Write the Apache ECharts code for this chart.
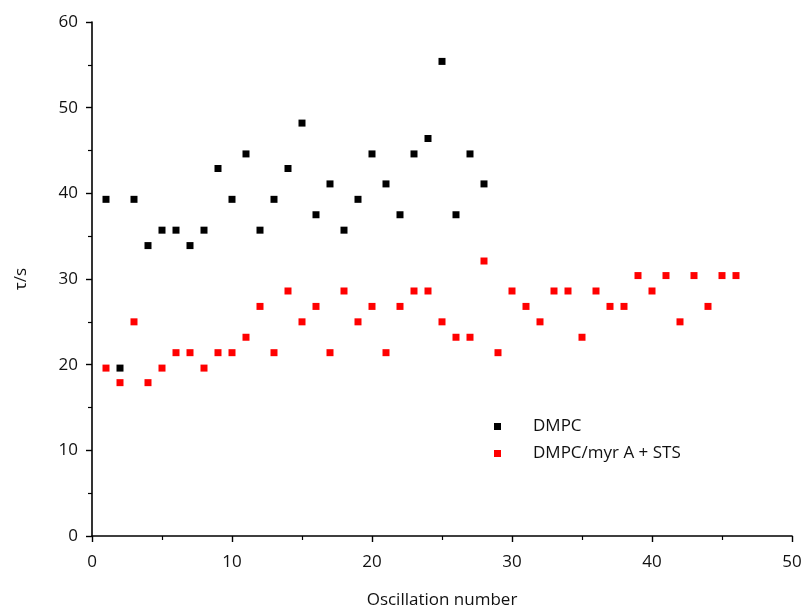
<!DOCTYPE html>
<html>
<head>
<meta charset="utf-8">
<script src="https://cdn.jsdelivr.net/npm/echarts@6/dist/echarts.min.js"></script>
<style>
  html, body { margin: 0; padding: 0; background: #fff; }
  #chart { width: 806px; height: 608px; }
</style>
</head>
<body>
<div id="chart"></div>
<script>
// Relaxation time per oscillation for the two membrane systems
const dmpcOsc = [1,2,3,4,5,6,7,8,9,10,11,12,13,14,15,16,17,18,19,20,21,22,23,24,25,26,27,28];
const dmpcTau = [39.3,19.6,39.3,33.9,35.7,35.7,33.9,35.7,42.9,39.3,44.6,35.7,39.3,42.9,48.2,37.5,41.1,35.7,39.3,44.6,41.1,37.5,44.6,46.4,55.4,37.5,44.6,41.1];

const mixOsc = [1,2,3,4,5,6,7,8,9,10,11,12,13,14,15,16,17,18,19,20,21,22,23,24,25,26,27,28,29,30,31,32,33,34,35,36,37,38,39,40,41,42,43,44,45,46];
const mixTau = [19.6,17.9,25.0,17.9,19.6,21.4,21.4,19.6,21.4,21.4,23.2,26.8,21.4,28.6,25.0,26.8,21.4,28.6,25.0,26.8,21.4,26.8,28.6,28.6,25.0,23.2,23.2,32.1,21.4,28.6,26.8,25.0,28.6,28.6,23.2,28.6,26.8,26.8,30.4,28.6,30.4,25.0,30.4,26.8,30.4,30.4];

const seriesNames = ['DMPC', 'DMPC/myr A + STS'];
const xTitle = 'Oscillation number';
const yTitle = '\u03C4/s';

const pairs = (xs, ys) => xs.map((x, i) => [x, ys[i]]);

const font = '"Open Sans", "Noto Sans", sans-serif';
const axisCommon = {
  type: 'value',
  axisLine: { show: true, lineStyle: { color: '#000', width: 1.6 } },
  axisTick: { show: true, inside: false, length: 6, lineStyle: { color: '#000', width: 1.4 } },
  minorTick: { show: true, splitNumber: 2, length: 4, lineStyle: { color: '#000', width: 1.2 } },
  splitLine: { show: false },
  minorSplitLine: { show: false },
  axisLabel: { color: '#111', fontSize: 17, fontFamily: font },
  nameTextStyle: { color: '#111', fontSize: 17, fontFamily: font }
};

const chart = echarts.init(document.getElementById('chart'), null, { renderer: 'canvas' });
chart.setOption({
  backgroundColor: '#fff',
  animation: false,
  grid: { left: 92, right: 14, top: 22, bottom: 72, containLabel: false, outerBoundsMode: 'none' },
  legend: {
    orient: 'vertical',
    left: 489,
    top: 413,
    icon: 'rect',
    itemWidth: 7,
    itemHeight: 7,
    itemGap: 10,
    textStyle: { color: '#111', fontSize: 17, fontFamily: font, padding: [0, 0, 0, 27] },
    data: seriesNames
  },
  xAxis: Object.assign({}, axisCommon, {
    min: 0, max: 50, interval: 10,
    name: xTitle, nameLocation: 'middle', nameGap: 56,
    axisLabel: Object.assign({}, axisCommon.axisLabel, { margin: 18 })
  }),
  yAxis: Object.assign({}, axisCommon, {
    min: 0, max: 60, interval: 10,
    name: yTitle, nameLocation: 'middle', nameGap: 62, nameRotate: 90,
    axisLabel: Object.assign({}, axisCommon.axisLabel, { margin: 14 })
  }),
  series: [
    {
      name: seriesNames[0], type: 'scatter', symbol: 'rect', symbolSize: 7,
      itemStyle: { color: '#000', opacity: 1 },
      data: pairs(dmpcOsc, dmpcTau)
    },
    {
      name: seriesNames[1], type: 'scatter', symbol: 'rect', symbolSize: 7,
      itemStyle: { color: '#ff0000', opacity: 1 },
      data: pairs(mixOsc, mixTau)
    }
  ]
});
</script>
</body>
</html>
